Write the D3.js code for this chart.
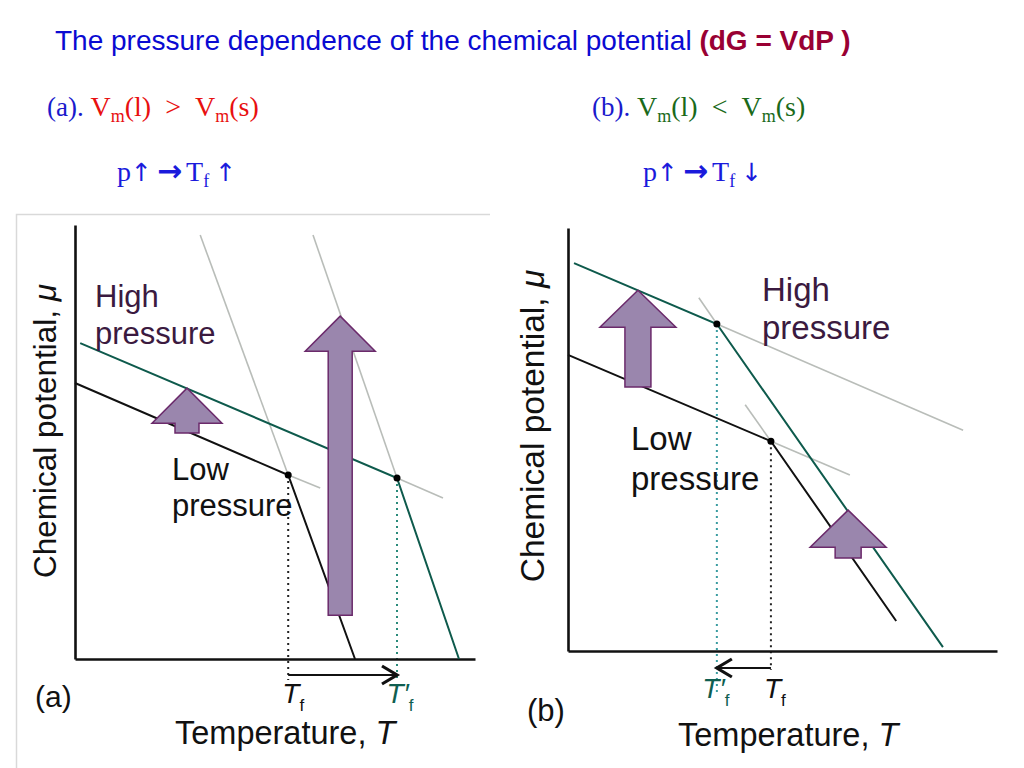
<!DOCTYPE html>
<html><head><meta charset="utf-8">
<script src="https://cdn.jsdelivr.net/npm/d3@7"></script>
<style>body{margin:0;background:#fff} svg{display:block}</style>
</head><body>
<svg id="c" width="1024" height="768"></svg>
<script>
// ================= DATA (T, mu) in arbitrary units 0..100 =================
// Panel (a): Vm(l) > Vm(s)
const lowA   = [[0, 63.6], [53.3, 42.4], [70, 0]];          // low pressure: solid -> liquid
const highA  = [[1.3, 72.8], [80.5, 41.7], [96, 0]];        // high pressure
const guideA = [[[31.3, 97.7], [53.3, 42.4]], [[53.3, 42.4], [61.3, 39.4]],
                [[59.5, 97.7], [80.5, 41.7]], [[80.5, 41.7], [92, 37.1]]];
const pushA  = [[28, 52.1, 62.4], [66.3, 10.1, 79.0]];      // [T, mu from, mu to]
const tickA  = ["T|f", "T′|f"];
// Panel (b): Vm(l) < Vm(s)
const lowB   = [[0, 70.0], [47.3, 49.6], [76.5, 7.1]];
const highB  = [[1.4, 91.7], [34.7, 77.3], [87.4, 0.9]];
const guideB = [[[30.5, 83.5], [34.7, 77.3]], [[34.7, 77.3], [92.1, 52.2]],
                [[41.3, 58.2], [47.3, 49.6]], [[47.3, 49.6], [65.7, 41.6]]];
const pushB  = [[16.3, 62.4, 85.3], [65.3, 22.0, 33.3]];
const tickB  = ["T|f", "T′|f"];

const svg = d3.select('#c');
const SANS = "'Liberation Sans', Arial, sans-serif";
const SERIF = "'Liberation Serif', 'Times New Roman', serif";
const SYM = "'DejaVu Sans', sans-serif";

// ================= HEADER TEXT =================
const title = svg.append('text').attr('x', 55).attr('y', 50)
  .attr('font-family', SANS).attr('font-size', 28);
title.append('tspan').attr('fill', '#0a0ad2').text('The pressure dependence of the chemical potential ');
title.append('tspan').attr('fill', '#990033').attr('font-weight', 'bold').text('(dG = VdP )');

function subtitle(x, y, tag, rel, col) {
  const t = svg.append('text').attr('x', x).attr('y', y).attr('font-family', SERIF).attr('font-size', 28);
  t.append('tspan').attr('fill', '#1a1acc').attr('font-size', 27).text(tag + ' ');
  const parts = [['V', 0], ['m', 1], ['(l)', 0], ['\u2002' + rel + '\u2002', 0], ['V', 0], ['m', 1], ['(s)', 0]];
  let low = false;
  parts.forEach(([s, sub]) => {
    const sp = t.append('tspan').attr('fill', col).text(s);
    if (sub) sp.attr('font-size', 18);
    if (sub && !low) { sp.attr('dy', 6); low = true; }
    else if (!sub && low) { sp.attr('dy', -6); low = false; }
  });
}
subtitle(47, 116, '(a).', '>', '#e81010');
subtitle(592, 116, '(b).', '<', '#1a6a1a');

function pline(x, y, endArrow) {
  const t = svg.append('text').attr('x', x).attr('y', y).attr('font-family', SERIF)
    .attr('font-size', 28).attr('fill', '#1a1adc');
  t.append('tspan').text('p');
  t.append('tspan').attr('font-family', SYM).attr('font-size', 25).text('\u2191');
  t.append('tspan').attr('font-family', SYM).attr('font-weight', 'bold').attr('font-size', 30).attr('dx', 5).text('\u2192');
  t.append('tspan').attr('dx', 4).text('T');
  t.append('tspan').attr('font-size', 18).attr('dy', 6).text('f');
  t.append('tspan').attr('dy', -6).attr('dx', 6).attr('font-family', SYM).attr('font-size', 25).text(endArrow);
}
pline(117, 181, '\u2191');
pline(643, 181, '\u2193');

// frame around panel (a)
svg.append('path').attr('d', 'M490,214.5H16.5V768').attr('fill', 'none').attr('stroke', '#d9d9d9').attr('stroke-width', 1.5);

// ================= PANELS =================
function drawPanel(c) {
  const g = svg.append('g');
  const x = d3.scaleLinear().domain([0, 100]).range(c.xr);
  const y = d3.scaleLinear().domain([0, 100]).range(c.yr);
  const line = d3.line().x(d => x(d[0])).y(d => y(d[1]));
  const melts = [c.low[1], c.high[1]];

  // grey extensions
  g.selectAll('path.guide').data(c.guide).join('path').attr('class', 'guide')
    .attr('d', line).attr('fill', 'none').attr('stroke', '#b9bdb9').attr('stroke-width', 1.6);

  // dotted drops
  melts.forEach((m, i) => {
    g.append('line').attr('x1', x(m[0])).attr('x2', x(m[0]))
      .attr('y1', y(m[1])).attr('y2', y(0) + c.drop[i])
      .attr('stroke', i ? c.dotTeal : '#222').attr('stroke-width', 2).attr('stroke-dasharray', '2,4');
  });

  // axes
  const ax = g.append('g').attr('transform', `translate(0,${y(0)})`)
    .call(d3.axisBottom(x).tickValues([]).tickSizeOuter(0));
  const ay = g.append('g').attr('transform', `translate(${x(0)},0)`)
    .call(d3.axisLeft(y).tickValues([]).tickSizeOuter(0));
  [ax, ay].forEach(a => a.select('.domain').attr('stroke', '#111').attr('stroke-width', 2.6));

  // chemical potential lines
  g.append('path').attr('d', line(c.low)).attr('fill', 'none').attr('stroke', '#111').attr('stroke-width', 2);
  g.append('path').attr('d', line(c.high)).attr('fill', 'none').attr('stroke', '#0e5a4c').attr('stroke-width', 2);

  // melting points
  g.selectAll('circle').data(melts).join('circle')
    .attr('cx', d => x(d[0])).attr('cy', d => y(d[1])).attr('r', 3.5).attr('fill', '#000');

  // purple block arrows
  const [hl, hh, sh] = c.arrowShape;
  g.selectAll('path.push').data(c.push).join('path').attr('class', 'push')
    .attr('d', d => {
      const cx = x(d[0]), yb = y(d[1]), yt = y(d[2]);
      return `M${cx - sh},${yb}V${yt + hl}H${cx - hh}L${cx},${yt}L${cx + hh},${yt + hl}H${cx + sh}V${yb}Z`;
    })
    .attr('fill', '#9a86ad').attr('stroke', '#6b2a6b').attr('stroke-width', 1.5);

  // shift arrow Tf -> Tf'
  const ya = y(0) + c.shiftY;
  const x0 = x(melts[0][0]), x1 = x(melts[1][0]);
  const dir = Math.sign(x1 - x0);
  g.append('line').attr('x1', x0).attr('x2', x1 - dir * 2).attr('y1', ya).attr('y2', ya)
    .attr('stroke', '#111').attr('stroke-width', 2);
  g.append('path').attr('d', `M${x1 - dir * 15},${ya - 9}L${x1},${ya}L${x1 - dir * 15},${ya + 9}`)
    .attr('fill', 'none').attr('stroke', '#111').attr('stroke-width', 3.2);

  // tick labels
  c.ticks.forEach((lab, i) => {
    const [main, sub] = lab.split('|');
    const t = g.append('text').attr('x', x(melts[i][0]) + c.tickDx[i]).attr('y', c.tickY)
      .attr('text-anchor', 'middle').attr('font-family', SANS).attr('font-size', 28)
      .attr('fill', i ? '#0f5e50' : '#111');
    t.append('tspan').attr('font-style', 'italic').text(main);
    t.append('tspan').attr('font-size', 17).attr('dy', 8).text(sub);
  });

  // axis titles
  const yl = g.append('text').attr('transform', `translate(${c.yLab[0]},${c.yLab[1]}) rotate(-90)`)
    .attr('text-anchor', 'middle').attr('font-family', SANS).attr('font-size', c.yLab[2]).attr('fill', '#111');
  yl.append('tspan').text('Chemical potential, ');
  yl.append('tspan').attr('font-style', 'italic').text('\u03bc');
  const xl = g.append('text').attr('x', c.xLab[0]).attr('y', c.xLab[1])
    .attr('font-family', SANS).attr('font-size', 32.5).attr('fill', '#111');
  xl.append('tspan').text('Temperature, ');
  xl.append('tspan').attr('font-style', 'italic').text('T');
  g.append('text').attr('x', c.tag[0]).attr('y', c.tag[1]).attr('font-family', SANS)
    .attr('font-size', c.tag[2]).attr('fill', '#111').text(c.tag[3]);

  // curve labels
  const lab = (pos, col, words) => words.forEach((w, i) =>
    g.append('text').attr('x', pos[0]).attr('y', pos[1 + i]).attr('font-family', SANS)
      .attr('font-size', pos[3]).attr('fill', col).text(w));
  lab(c.highLab, '#3b1a3f', ['High', 'pressure']);
  lab(c.lowLab, '#111', ['Low', 'pressure']);
}

drawPanel({
  xr: [75, 475], yr: [659, 225], low: lowA, high: highA, guide: guideA, push: pushA, ticks: tickA,
  drop: [21, 21], dotTeal: '#2a8a7a', shiftY: 16, tickDx: [5, 3], tickY: 703,
  arrowShape: [35, 35, 12],
  yLab: [56, 431, 31.5], xLab: [175, 744], tag: [35, 707, 30, '(a)'],
  highLab: [95, 307, 344, 31], lowLab: [172, 480, 516, 31]
});
drawPanel({
  xr: [568, 997], yr: [651, 228], low: lowB, high: highB, guide: guideB, push: pushB, ticks: tickB,
  drop: [19, 44], dotTeal: '#3a9ca0', shiftY: 17, tickDx: [4, -1], tickY: 698,
  arrowShape: [37, 38, 13],
  yLab: [544, 426, 33.5], xLab: [678, 746], tag: [527, 721, 31, '(b)'],
  highLab: [762, 301, 339, 33], lowLab: [631, 450, 490, 33]
});
</script>
</body></html>
